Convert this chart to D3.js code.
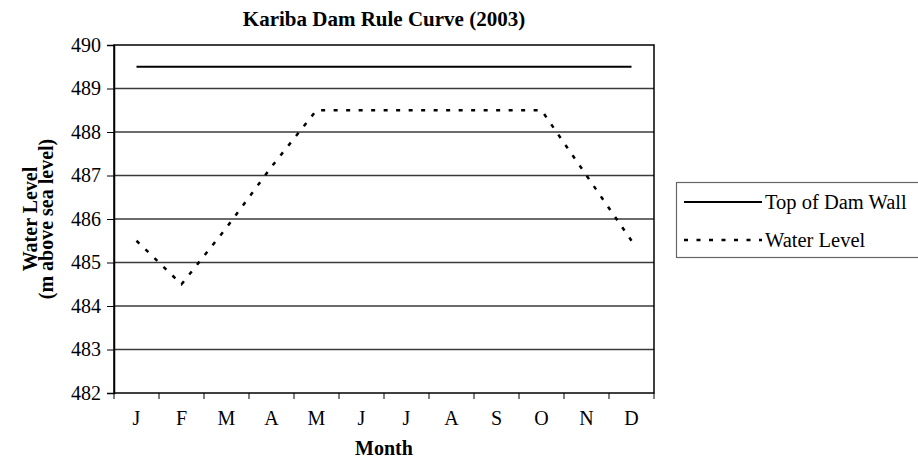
<!DOCTYPE html>
<html>
<head>
<meta charset="utf-8">
<script src="https://cdn.jsdelivr.net/npm/d3@7"></script>
<style>
  body { margin: 0; background: #fff; }
</style>
</head>
<body>
<svg id="chart" width="918" height="459"></svg>
<script>
// Kariba Dam rule curve, 2003
const months = ["J", "F", "M", "A", "M", "J", "J", "A", "S", "O", "N", "D"];
const damWall = [489.5, 489.5, 489.5, 489.5, 489.5, 489.5, 489.5, 489.5, 489.5, 489.5, 489.5, 489.5];
const waterLevel = [485.5, 484.5, 485.8, 487.2, 488.5, 488.5, 488.5, 488.5, 488.5, 488.5, 487.0, 485.5];
const yTicks = [482, 483, 484, 485, 486, 487, 488, 489, 490];

const FONT = "'Liberation Serif', 'Times New Roman', serif";
const svg = d3.select("#chart");
const m = { left: 114, right: 264, top: 45, bottom: 66 };
const w = 918, h = 459;

const idx = months.map((_, i) => i);
const x = d3.scaleBand().domain(idx).range([m.left, w - m.right]);
const y = d3.scaleLinear().domain([482, 490]).range([h - m.bottom, m.top]);
const cx = (i) => x(i) + x.bandwidth() / 2;

// gridlines
svg.append("g")
  .selectAll("line")
  .data(yTicks.filter((t) => t > 482 && t < 490))
  .join("line")
  .attr("x1", m.left)
  .attr("x2", w - m.right)
  .attr("y1", (d) => y(d))
  .attr("y2", (d) => y(d))
  .attr("stroke", "#3a3a3a")
  .attr("stroke-width", 1.5);

// plot frame
svg.append("rect")
  .attr("x", m.left)
  .attr("y", m.top)
  .attr("width", w - m.left - m.right)
  .attr("height", h - m.top - m.bottom)
  .attr("fill", "none")
  .attr("stroke", "#000")
  .attr("stroke-width", 1.5);

// y axis
const yAxis = svg.append("g")
  .attr("transform", `translate(${m.left},0)`)
  .call(d3.axisLeft(y).tickValues(yTicks).tickSize(7).tickPadding(6).tickFormat(d3.format("d")));
yAxis.select(".domain").attr("stroke", "#000").attr("stroke-width", 1.5);
yAxis.selectAll(".tick line").attr("stroke", "#000").attr("stroke-width", 1);
yAxis.selectAll("text")
  .attr("font-size", 20)
  .style("font-family", FONT)
  .attr("fill", "#000");

// x axis (ticks at band boundaries, labels centred)
const xg = svg.append("g").attr("transform", `translate(0,${h - m.bottom})`);
xg.selectAll("line")
  .data(d3.range(months.length + 1))
  .join("line")
  .attr("x1", (i) => m.left + i * x.bandwidth())
  .attr("x2", (i) => m.left + i * x.bandwidth())
  .attr("y1", 0)
  .attr("y2", 6)
  .attr("stroke", "#000");
xg.selectAll("text")
  .data(idx)
  .join("text")
  .attr("x", cx)
  .attr("y", 32)
  .attr("text-anchor", "middle")
  .attr("font-size", 20)
  .style("font-family", FONT)
  .text((i) => months[i]);

// series
const line = d3.line().x((d, i) => cx(i)).y((d) => y(d));

svg.append("path")
  .datum(damWall)
  .attr("fill", "none")
  .attr("stroke", "#000")
  .attr("stroke-width", 2)
  .attr("d", line);

svg.append("path")
  .datum(waterLevel)
  .attr("fill", "none")
  .attr("stroke", "#000")
  .attr("stroke-width", 2.5)
  .attr("stroke-dasharray", "4,8.5")
  .attr("d", line);

// title and axis titles
svg.append("text")
  .attr("x", (m.left + w - m.right) / 2)
  .attr("y", 26)
  .attr("text-anchor", "middle")
  .attr("font-size", 21)
  .attr("font-weight", "bold")
  .style("font-family", FONT)
  .text("Kariba Dam Rule Curve (2003)");

svg.append("text")
  .attr("x", (m.left + w - m.right) / 2)
  .attr("y", 455)
  .attr("text-anchor", "middle")
  .attr("font-size", 20)
  .attr("font-weight", "bold")
  .style("font-family", FONT)
  .text("Month");

const yMid = (m.top + h - m.bottom) / 2;
const yt = svg.append("text")
  .attr("transform", `translate(37,${yMid}) rotate(-90)`)
  .attr("text-anchor", "middle")
  .attr("font-size", 20)
  .attr("font-weight", "bold")
  .style("font-family", FONT);
yt.append("tspan").attr("x", 0).attr("y", 0).text("Water Level");
yt.append("tspan").attr("x", 0).attr("y", 16).text("(m above sea level)");

// legend
const lg = svg.append("g");
lg.append("rect")
  .attr("x", 676.5)
  .attr("y", 182.5)
  .attr("width", 250)
  .attr("height", 75)
  .attr("fill", "#fff")
  .attr("stroke", "#666")
  .attr("stroke-width", 1.2);

const legendItems = [
  { label: "Top of Dam Wall", width: 2, dash: null, y: 202 },
  { label: "Water Level", width: 2.5, dash: "4,8.5", y: 240 },
];
legendItems.forEach((s) => {
  const l = lg.append("line")
    .attr("x1", 684)
    .attr("x2", 762)
    .attr("y1", s.y)
    .attr("y2", s.y)
    .attr("stroke", "#000")
    .attr("stroke-width", s.width);
  if (s.dash) l.attr("stroke-dasharray", s.dash);
  lg.append("text")
    .attr("x", 765)
    .attr("y", s.y + 7)
    .attr("font-size", 20.5)
    .style("font-family", FONT)
    .text(s.label);
});
</script>
</body>
</html>
